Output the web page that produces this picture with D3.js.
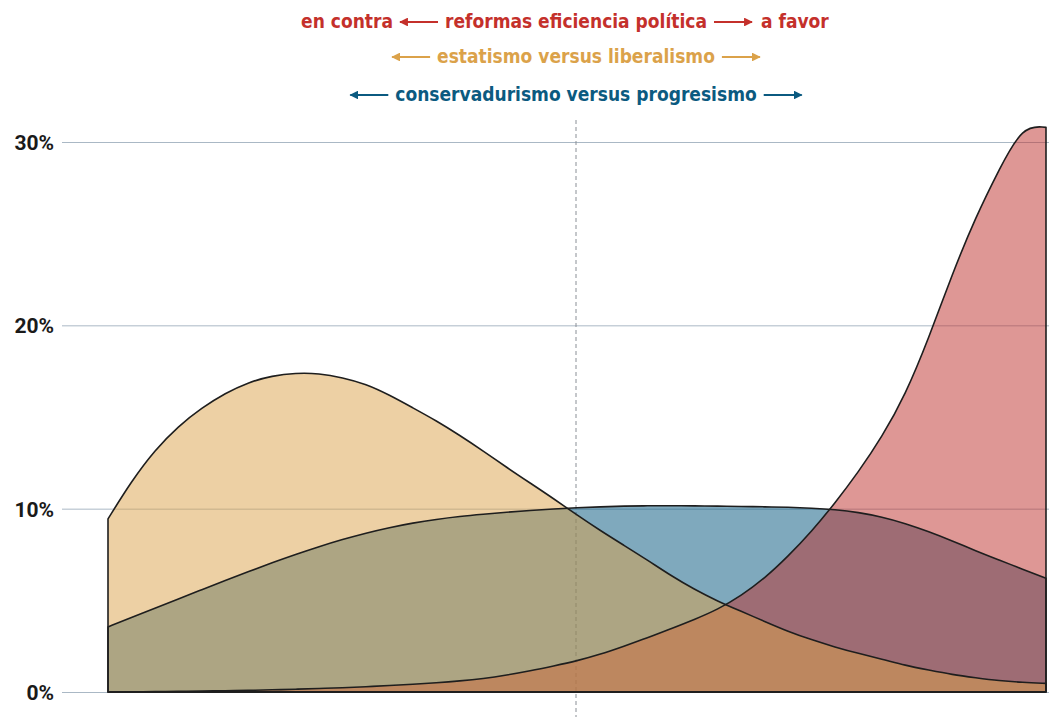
<!DOCTYPE html>
<html>
<head>
<meta charset="utf-8">
<script src="https://cdn.jsdelivr.net/npm/d3@7"></script>
<style>
  html, body { margin: 0; padding: 0; background: #fff; }
  svg { display: block; }
  .title { font-family: "Liberation Sans Narrow", "DejaVu Sans Condensed", sans-serif; font-weight: 700; font-size: 19px; }
  .y-axis text { font-family: Roboto, "Open Sans", sans-serif; font-weight: 700; font-size: 21px; fill: #1a1a1a; }
</style>
</head>
<body>
<svg id="chart" width="1049" height="717"></svg>
<script>
// posición en el eje (0 = extremo izquierdo, 100 = extremo derecho)
const xs = [0, 2.5, 5, 7.5, 10, 12.5, 15, 17.5, 20, 22.5, 25, 27.5, 30, 32.5, 35, 37.5, 40,
  42.5, 45, 47.5, 50, 52.5, 55, 57.5, 60, 62.5, 65, 67.5, 70, 72.5, 75, 77.5, 80,
  82.5, 85, 87.5, 90, 92.5, 95, 97.5, 100];

// conservadurismo versus progresismo (%)
const conservadurismo = [3.55, 4.06, 4.57, 5.08, 5.58, 6.08, 6.57, 7.05, 7.5, 7.93, 8.32,
  8.67, 8.97, 9.22, 9.42, 9.58, 9.7, 9.81, 9.9, 9.98, 10.05, 10.1, 10.14, 10.16, 10.16, 10.15,
  10.14, 10.12, 10.1, 10.08, 10.03, 9.95, 9.8, 9.55, 9.2, 8.75, 8.25, 7.7, 7.2, 6.7, 6.2];

// reformas eficiencia política (%)
const reformas = [0, 0.01, 0.02, 0.03, 0.05, 0.07, 0.09, 0.12, 0.15, 0.19, 0.23, 0.29, 0.35,
  0.42, 0.5, 0.6, 0.73, 0.92, 1.15, 1.42, 1.7, 2.05, 2.5, 2.95, 3.45, 3.95, 4.5, 5.25, 6.2,
  7.4, 8.75, 10.3, 12.0, 13.9, 16.2, 19.3, 22.8, 25.9, 28.5, 30.9, 30.8];

// estatismo versus liberalismo (%)
const estatismo = [9.44, 11.5, 13.2, 14.5, 15.5, 16.3, 16.9, 17.25, 17.4, 17.38, 17.15,
  16.8, 16.2, 15.5, 14.8, 14.0, 13.15, 12.25, 11.4, 10.55, 9.65, 8.8, 8.0, 7.2, 6.35, 5.6,
  4.95, 4.4, 3.85, 3.3, 2.85, 2.45, 2.1, 1.8, 1.45, 1.2, 0.95, 0.78, 0.62, 0.52, 0.47];

const yTicks = [0, 10, 20, 30];

const svg = d3.select("#chart");
const width = 1049;

const xScale = d3.scaleLinear().domain([0, 100]).range([108, 1046]);
const yScale = d3.scaleLinear().domain([0, 30]).range([692, 142]);

// rejilla + etiquetas
const yAxis = svg.append("g")
  .attr("class", "y-axis")
  .attr("transform", `translate(${width}, 0)`)
  .call(d3.axisLeft(yScale).tickValues(yTicks).tickSize(width - 62).tickPadding(8)
    .tickFormat((d) => d + "%"));
yAxis.select(".domain").remove();
yAxis.selectAll(".tick line").attr("stroke", "#aab8c5").attr("stroke-width", 1);
yAxis.selectAll(".tick text").attr("dy", "0.36em");

// línea central punteada
svg.append("line")
  .attr("x1", xScale(50) - 1).attr("x2", xScale(50) - 1)
  .attr("y1", 120).attr("y2", 717)
  .attr("stroke", "#8a8f96")
  .attr("stroke-width", 1)
  .attr("stroke-dasharray", "4,3");

const series = [
  { values: conservadurismo, fill: "#00537b" },
  { values: reformas, fill: "#bd2f2b" },
  { values: estatismo, fill: "#dba24a" },
];

const area = d3.area()
  .x((d) => xScale(d[0]))
  .y0(yScale(0))
  .y1((d) => yScale(d[1]))
  .curve(d3.curveBasis);

const fills = svg.append("g");
series.forEach((s) => {
  fills.append("path")
    .attr("d", area(xs.map((x, i) => [x, s.values[i]])))
    .attr("fill", s.fill)
    .attr("fill-opacity", 0.5);
});

const outlines = svg.append("g");
series.forEach((s) => {
  outlines.append("path")
    .attr("d", area(xs.map((x, i) => [x, s.values[i]])))
    .attr("fill", "none")
    .attr("stroke", "#1e1e1e")
    .attr("stroke-width", 1.6)
    .attr("stroke-linejoin", "round");
});

// títulos con flechas
const defs = svg.append("defs");
function marker(id, color) {
  defs.append("marker")
    .attr("id", id)
    .attr("viewBox", "0 0 10 10")
    .attr("refX", 9).attr("refY", 5)
    .attr("markerWidth", 4).attr("markerHeight", 4)
    .attr("markerUnits", "strokeWidth")
    .attr("orient", "auto")
    .append("path")
    .attr("d", "M0,0L10,5L0,10z")
    .attr("fill", color);
}

const titles = [
  { text: "reformas eficiencia política", left: "en contra", right: "a favor", color: "#c4302b", y: 28 },
  { text: "estatismo versus liberalismo", left: "", right: "", color: "#dba24a", y: 63 },
  { text: "conservadurismo versus progresismo", left: "", right: "", color: "#0b5a80", y: 101 },
];

const cx = xScale(50) - 1;
const gap = 7;
const arrowLen = 38;

titles.forEach((t, i) => {
  marker("arrow" + i, t.color);
  const g = svg.append("g").attr("class", "title").attr("fill", t.color);
  const main = g.append("text").attr("x", cx).attr("y", t.y).attr("text-anchor", "middle").text(t.text);
  const w = main.node().getComputedTextLength();
  const ay = t.y - 6;
  const lx = cx - w / 2 - gap;
  const rx = cx + w / 2 + gap;
  g.append("line")
    .attr("x1", lx).attr("x2", lx - arrowLen)
    .attr("y1", ay).attr("y2", ay)
    .attr("stroke", t.color).attr("stroke-width", 2.2)
    .attr("marker-end", `url(#arrow${i})`);
  g.append("line")
    .attr("x1", rx).attr("x2", rx + arrowLen)
    .attr("y1", ay).attr("y2", ay)
    .attr("stroke", t.color).attr("stroke-width", 2.2)
    .attr("marker-end", `url(#arrow${i})`);
  if (t.left) {
    g.append("text").attr("x", lx - arrowLen - gap).attr("y", t.y).attr("text-anchor", "end").text(t.left);
  }
  if (t.right) {
    g.append("text").attr("x", rx + arrowLen + gap + 2).attr("y", t.y).attr("text-anchor", "start").text(t.right);
  }
});
</script>
</body>
</html>
